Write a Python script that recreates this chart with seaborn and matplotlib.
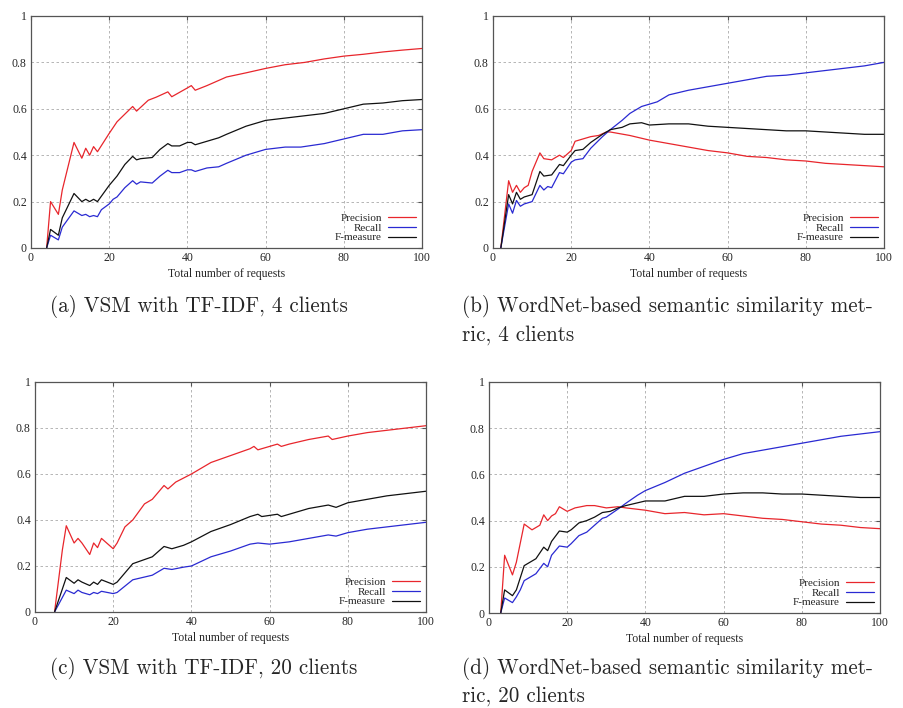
import pandas as pd
import numpy as np
import matplotlib.pyplot as plt
import seaborn as sns
from matplotlib.ticker import FormatStrFormatter

# values
# (a) VSM with TF-IDF, 4 clients
a_prec_x = [4, 5, 7, 8, 11, 13, 14, 15, 16, 17, 20, 22, 26, 27, 30, 32, 35, 36, 40, 41, 42, 45, 50, 55, 60, 65, 70, 75, 80, 85, 90, 95, 100]
a_prec_y = [0, 0.2, 0.145, 0.25, 0.455, 0.387, 0.43, 0.40, 0.437, 0.415, 0.494, 0.544, 0.61, 0.59, 0.637, 0.65, 0.673, 0.652, 0.69, 0.70, 0.68, 0.70, 0.737, 0.755, 0.774, 0.79, 0.80, 0.815, 0.827, 0.835, 0.845, 0.853, 0.86]
a_rec_x = [4, 5, 7, 8, 11, 13, 14, 15, 16, 17, 18, 20, 21, 22, 24, 26, 27, 28, 31, 33, 35, 36, 38, 40, 41, 42, 45, 48, 50, 55, 60, 65, 69, 75, 80, 85, 90, 95, 100]
a_rec_y = [0, 0.055, 0.035, 0.09, 0.16, 0.14, 0.145, 0.135, 0.14, 0.135, 0.165, 0.19, 0.21, 0.22, 0.26, 0.29, 0.275, 0.285, 0.28, 0.31, 0.335, 0.325, 0.325, 0.337, 0.337, 0.33, 0.345, 0.35, 0.365, 0.40, 0.425, 0.435, 0.435, 0.45, 0.47, 0.49, 0.49, 0.505, 0.51]
a_f_x = [4, 5, 7, 8, 11, 13, 14, 15, 16, 17, 20, 22, 24, 26, 27, 28, 31, 33, 35, 36, 38, 40, 41, 42, 45, 48, 50, 55, 60, 65, 70, 75, 80, 85, 90, 95, 100]
a_f_y = [0, 0.08, 0.055, 0.13, 0.235, 0.2, 0.21, 0.2, 0.21, 0.2, 0.27, 0.31, 0.36, 0.395, 0.38, 0.385, 0.39, 0.425, 0.45, 0.44, 0.44, 0.455, 0.455, 0.445, 0.46, 0.475, 0.49, 0.525, 0.55, 0.56, 0.57, 0.58, 0.60, 0.62, 0.625, 0.635, 0.64]

# (b) WordNet-based, 4 clients
b_prec_x = [2, 4, 5, 6, 7, 8, 9, 10, 12, 13, 15, 17, 18, 20, 21, 23, 25, 27, 29, 30, 35, 40, 45, 50, 55, 60, 65, 70, 75, 80, 85, 90, 95, 100]
b_prec_y = [0, 0.29, 0.24, 0.27, 0.24, 0.26, 0.27, 0.33, 0.41, 0.385, 0.38, 0.40, 0.39, 0.42, 0.46, 0.47, 0.48, 0.485, 0.50, 0.50, 0.485, 0.465, 0.45, 0.435, 0.42, 0.41, 0.395, 0.39, 0.38, 0.375, 0.365, 0.36, 0.355, 0.35]
b_rec_x = [2, 4, 5, 6, 7, 8, 10, 12, 13, 14, 15, 17, 18, 20, 21, 23, 25, 28, 30, 33, 35, 38, 40, 42, 45, 50, 55, 60, 65, 70, 75, 80, 85, 90, 95, 100]
b_rec_y = [0, 0.19, 0.15, 0.205, 0.18, 0.19, 0.2, 0.27, 0.25, 0.265, 0.26, 0.325, 0.32, 0.37, 0.38, 0.385, 0.43, 0.48, 0.51, 0.55, 0.58, 0.61, 0.62, 0.63, 0.66, 0.68, 0.695, 0.71, 0.725, 0.74, 0.745, 0.755, 0.765, 0.775, 0.785, 0.80]
b_f_x = [2, 4, 5, 6, 7, 8, 10, 12, 13, 15, 17, 18, 20, 21, 23, 25, 28, 30, 33, 35, 38, 40, 45, 50, 55, 60, 65, 70, 75, 80, 85, 90, 95, 100]
b_f_y = [0, 0.23, 0.19, 0.24, 0.21, 0.22, 0.23, 0.33, 0.31, 0.315, 0.36, 0.355, 0.40, 0.42, 0.425, 0.455, 0.49, 0.51, 0.52, 0.535, 0.54, 0.53, 0.535, 0.535, 0.525, 0.52, 0.515, 0.51, 0.505, 0.505, 0.50, 0.495, 0.49, 0.49]

# (c) VSM with TF-IDF, 20 clients
c_prec_x = [5, 7, 8, 10, 11, 12, 14, 15, 16, 17, 19, 20, 21, 23, 25, 28, 30, 33, 34, 36, 40, 45, 50, 55, 56, 57, 60, 62, 63, 65, 70, 75, 76, 80, 85, 90, 95, 100]
c_prec_y = [0, 0.27, 0.375, 0.30, 0.32, 0.30, 0.25, 0.30, 0.28, 0.32, 0.29, 0.275, 0.30, 0.37, 0.40, 0.47, 0.49, 0.55, 0.535, 0.565, 0.60, 0.65, 0.68, 0.71, 0.72, 0.705, 0.72, 0.73, 0.72, 0.73, 0.75, 0.765, 0.75, 0.765, 0.78, 0.79, 0.80, 0.81]
c_rec_x = [5, 8, 10, 11, 12, 14, 15, 16, 17, 20, 21, 25, 30, 33, 35, 38, 40, 45, 50, 55, 57, 60, 65, 70, 75, 77, 80, 85, 90, 95, 100]
c_rec_y = [0, 0.095, 0.08, 0.095, 0.085, 0.075, 0.085, 0.08, 0.09, 0.08, 0.085, 0.14, 0.16, 0.19, 0.185, 0.195, 0.20, 0.24, 0.265, 0.295, 0.30, 0.295, 0.305, 0.32, 0.335, 0.33, 0.345, 0.36, 0.37, 0.38, 0.39]
c_f_x = [5, 8, 10, 11, 12, 14, 15, 16, 17, 20, 21, 25, 30, 33, 35, 38, 40, 45, 50, 55, 57, 58, 60, 62, 63, 65, 70, 75, 77, 80, 85, 90, 95, 100]
c_f_y = [0, 0.15, 0.125, 0.14, 0.13, 0.115, 0.13, 0.12, 0.14, 0.12, 0.13, 0.21, 0.24, 0.285, 0.275, 0.29, 0.305, 0.35, 0.38, 0.415, 0.425, 0.415, 0.42, 0.425, 0.415, 0.425, 0.45, 0.465, 0.455, 0.475, 0.49, 0.505, 0.515, 0.525]

# (d) WordNet-based, 20 clients
d_prec_x = [3, 4, 6, 7, 9, 11, 13, 14, 15, 16, 17, 18, 20, 22, 25, 27, 30, 33, 35, 40, 45, 50, 55, 60, 65, 70, 75, 80, 85, 90, 95, 100]
d_prec_y = [0, 0.25, 0.165, 0.22, 0.385, 0.36, 0.38, 0.425, 0.40, 0.42, 0.43, 0.46, 0.44, 0.455, 0.465, 0.465, 0.455, 0.46, 0.455, 0.445, 0.43, 0.435, 0.425, 0.43, 0.42, 0.41, 0.405, 0.395, 0.385, 0.38, 0.37, 0.365]
d_rec_x = [3, 4, 6, 7, 8, 9, 11, 12, 14, 15, 16, 18, 20, 21, 23, 25, 27, 29, 30, 33, 35, 38, 40, 45, 50, 55, 60, 65, 70, 75, 80, 85, 90, 95, 100]
d_rec_y = [0, 0.065, 0.045, 0.07, 0.10, 0.14, 0.16, 0.17, 0.215, 0.20, 0.25, 0.29, 0.285, 0.30, 0.335, 0.35, 0.38, 0.41, 0.415, 0.45, 0.475, 0.51, 0.53, 0.565, 0.605, 0.635, 0.665, 0.69, 0.705, 0.72, 0.735, 0.75, 0.765, 0.775, 0.785]
d_f_x = [3, 4, 6, 7, 9, 11, 12, 14, 15, 16, 18, 20, 21, 23, 25, 27, 29, 31, 33, 35, 40, 45, 50, 55, 60, 65, 70, 75, 80, 85, 90, 95, 100]
d_f_y = [0, 0.10, 0.075, 0.10, 0.205, 0.225, 0.235, 0.285, 0.27, 0.31, 0.355, 0.35, 0.36, 0.39, 0.40, 0.415, 0.435, 0.44, 0.455, 0.465, 0.485, 0.485, 0.505, 0.505, 0.515, 0.52, 0.52, 0.515, 0.515, 0.51, 0.505, 0.50, 0.50]

series_names = ["Precision", "Recall", "F-measure"]
captions = [["(a) VSM with TF-IDF, 4 clients"],
            ["(b) WordNet-based semantic similarity met-", "ric, 4 clients"],
            ["(c) VSM with TF-IDF, 20 clients"],
            ["(d) WordNet-based semantic similarity met-", "ric, 20 clients"]]

panels = [
    [(a_prec_x, a_prec_y), (a_rec_x, a_rec_y), (a_f_x, a_f_y)],
    [(b_prec_x, b_prec_y), (b_rec_x, b_rec_y), (b_f_x, b_f_y)],
    [(c_prec_x, c_prec_y), (c_rec_x, c_rec_y), (c_f_x, c_f_y)],
    [(d_prec_x, d_prec_y), (d_rec_x, d_rec_y), (d_f_x, d_f_y)],
]

sns.set_style("white")
plt.rcParams['font.family'] = ['Liberation Serif', 'DejaVu Serif']
palette = {"Precision": "#e8262c", "Recall": "#2a2ad2", "F-measure": "#111111"}

fig = plt.figure(figsize=(9.04, 7.08), dpi=100)

# axes boxes in pixels: left, top, right, bottom
boxes = [(31, 16, 422, 248), (493, 16, 884, 248), (35, 382, 426, 612), (489, 382, 880, 613)]
cap_pos = [(50, 307), (462, 307), (50, 668), (462, 668)]

W, H = 904, 708
for i in range(4):
    l, t, r, b = boxes[i]
    ax = fig.add_axes([l / W, 1 - b / H, (r - l) / W, (b - t) / H])
    rows = []
    for name, (xs, ys) in zip(series_names, panels[i]):
        rows.append(pd.DataFrame({"x": xs, "y": ys, "s": name}))
    df = pd.concat(rows, ignore_index=True)
    sns.lineplot(data=df, x="x", y="y", hue="s", palette=palette, estimator=None,
                 sort=False, linewidth=0.9, ax=ax)
    ax.set_xlim(0, 100)
    ax.set_ylim(0, 1)
    ax.set_xticks([0, 20, 40, 60, 80, 100])
    ax.set_yticks([0, 0.2, 0.4, 0.6, 0.8, 1])
    ax.yaxis.set_major_formatter(FormatStrFormatter('%g'))
    ax.grid(True, color="#aaaaaa", linestyle=(0, (3, 3)), linewidth=0.6)
    for sp in ax.spines.values():
        sp.set_color("#555555")
        sp.set_linewidth(0.9)
    ax.tick_params(labelsize=8.5, length=3, direction="in", top=True, right=True,
                   color="#555555", pad=3)
    ax.set_xlabel("Total number of requests", fontsize=8.5, labelpad=3)
    ax.set_ylabel("")
    ax.legend(loc="lower right", frameon=False, markerfirst=False, fontsize=8,
              handlelength=2.6, labelspacing=0.0, borderaxespad=0.3,
              handletextpad=0.5, borderpad=0.2)
    cx, cy = cap_pos[i]
    for k, line in enumerate(captions[i]):
        fig.text(cx / W, 1 - (cy + 28 * k) / H, line, family="cmr10", fontsize=15.2,
                 va="center", ha="left")

plt.savefig("out.png", dpi=100)
